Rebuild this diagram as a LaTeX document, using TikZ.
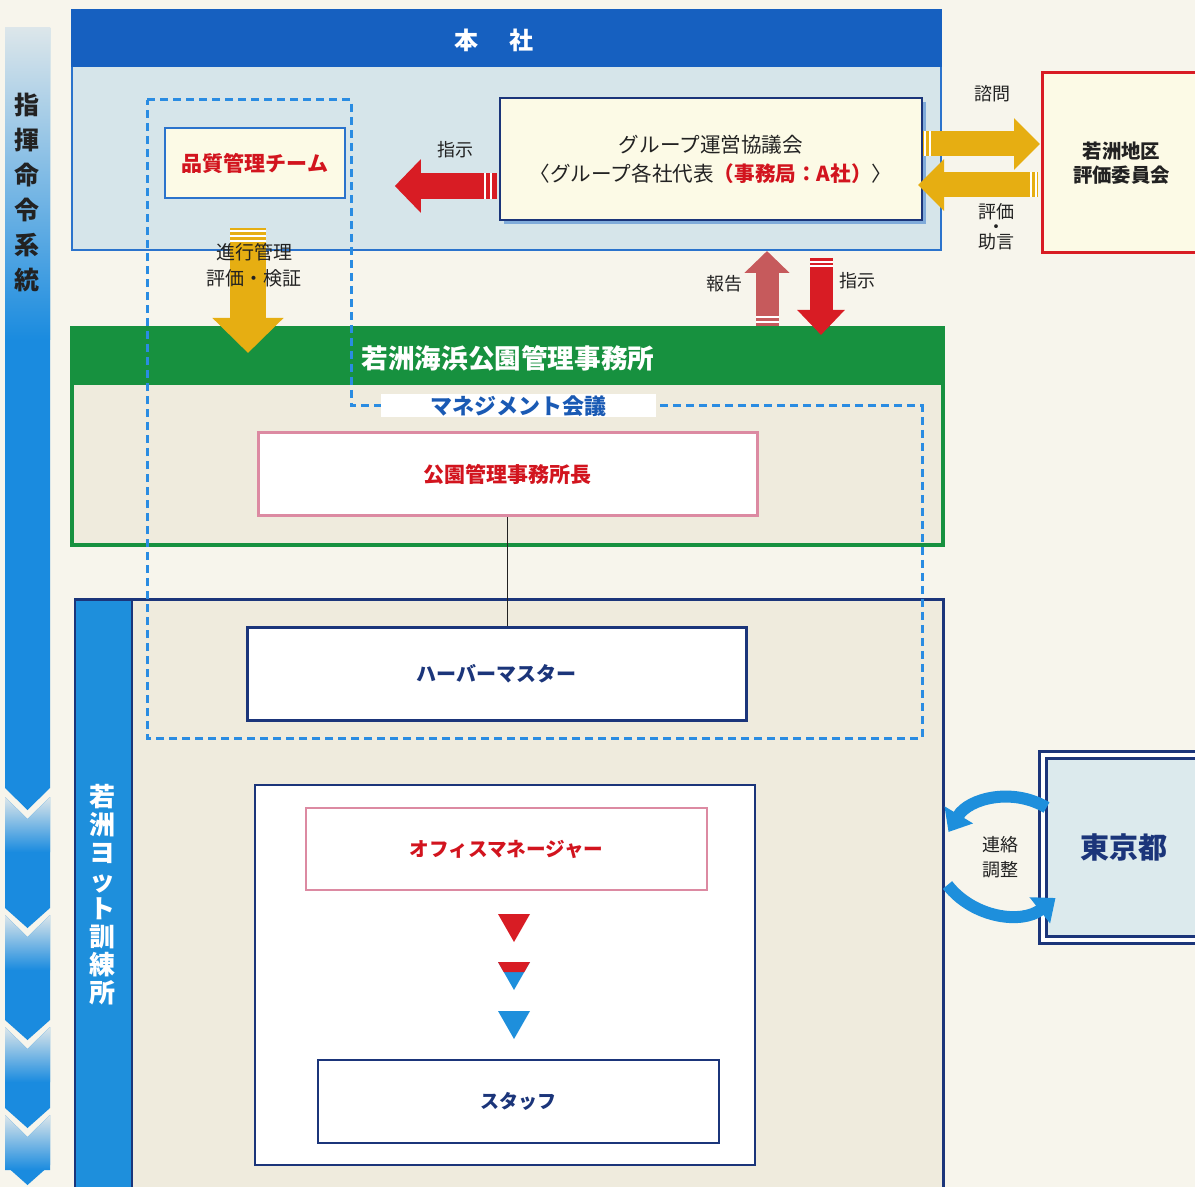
\documentclass[tikz,border=0pt]{standalone}
\usepackage{fontspec}
\setmainfont{Noto Sans CJK JP}
\usetikzlibrary{arrows.meta,calc,shadows}

\definecolor{paper}{HTML}{F7F5EC}
\definecolor{hqblue}{HTML}{1660C0}
\definecolor{hqline}{HTML}{2B73CC}
\definecolor{hqbody}{HTML}{D6E5EA}
\definecolor{cream}{HTML}{FCFAE6}
\definecolor{officegreen}{HTML}{17913F}
\definecolor{beige}{HTML}{EFEBDD}
\definecolor{navy}{HTML}{1B357A}
\definecolor{stripblue}{HTML}{1E8FDC}
\definecolor{cmdblue}{HTML}{1A8BDF}
\definecolor{cmdlight}{HTML}{DCE6EA}
\definecolor{signred}{HTML}{D81C24}
\definecolor{reportred}{HTML}{C65A5C}
\definecolor{gold}{HTML}{E6AE12}
\definecolor{pinkline}{HTML}{DC8AA2}
\definecolor{dashblue}{HTML}{2A8CE2}
\definecolor{tokyofill}{HTML}{DCEAED}
\definecolor{ink}{HTML}{222222}
\definecolor{textred}{HTML}{D2141E}
\definecolor{textblue}{HTML}{1A5AB4}

\newcommand{\sz}[2]{\fontsize{#1}{#2}\selectfont}

\begin{document}
\begin{tikzpicture}[x=0.5pt, y=-0.5pt,
  box/.style={rectangle, inner sep=0pt, align=center},
  lbl/.style={text=ink, align=center, font=\sz{9}{11}},
  redblock/.style={draw=signred, line width=13pt, -{Triangle[width=26pt,length=13pt]}},
  goldblock/.style={draw=gold, line width=12.5pt, -{Triangle[width=25pt,length=13pt]}},
  stripe/.style={white, line width=0.7pt},
  liaison/.style={draw=stripblue, line width=6pt, -{Triangle[width=16pt,length=10pt]}}]

% paper
\useasboundingbox (0,0) rectangle (1195,1187);
\fill[paper] (0,0) rectangle (1195,1187);

% command chain band
\fill[cmdblue] (5,28) -- (50,28) -- (50,788) -- (27.5,810) -- (5,788) -- cycle;
\shade[top color=cmdlight, bottom color=cmdblue] (5,28) rectangle (50,340);
\foreach \t/\b in {797/908, 915/1020, 1027/1108, 1115/1165} {
  \fill[cmdblue] (5,\t) -- (27.5,\t+22) -- (50,\t) -- (50,\b) -- (27.5,\b+20) -- (5,\b) -- cycle;
  \shade[top color=cmdlight, bottom color=cmdblue] (5,\t) -- (27.5,\t+22) -- (50,\t) -- (50,\t+55) -- (5,\t+55) -- cycle;
}
\node[box, text=ink, font=\sz{12.5}{17.5}\bfseries] (chain) at (27,193)
  {指\\揮\\命\\令\\系\\統};

% head office
\node[box, draw=hqline, fill=hqbody, line width=1pt, minimum width=434.5pt, minimum height=120pt] (hq) at (506.5,130) {};
\fill[hqblue] (hq.north west) rectangle ([yshift=-29pt]hq.north east);
\node[text=white, font=\sz{12}{14}\bfseries] (hqtitle) at (494,40) {本\hspace{1.3em}社};

% park office
\node[box, draw=officegreen, fill=beige, line width=2pt, minimum width=435.5pt, minimum height=108.5pt] (office) at (507.5,436.5) {};
\fill[officegreen] (office.north west) rectangle ([yshift=-29.5pt]office.north east);
\node[text=white, font=\sz{13.3}{15}\bfseries] (officetitle) at (508,358) {若洲海浜公園管理事務所};

% yacht school
\node[box, draw=navy, fill=beige, line width=1.5pt, minimum width=434pt, minimum height=295pt] (yacht) at (509,895) {};
\fill[stripblue] (76,601) rectangle (132,1190);
\draw[navy, line width=1pt] (132,601) -- (132,1190);
\node[box, text=white, font=\sz{13}{14}\bfseries] (yachttitle) at (103,895)
  {若\\洲\\ヨ\\ッ\\ト\\訓\\練\\所};
\node[box, draw=navy, fill=white, line width=1pt, minimum width=250pt, minimum height=190pt] (inner) at (505,975) {};

% Tokyo
\node[box, draw=navy, line width=1.5pt, double=white, double distance=2pt, fill=tokyofill,
  minimum width=81pt, minimum height=92.5pt, text=navy, font=\sz{14.5}{16}\bfseries] (tokyo) at (1124,847.5) {東京都};

% evaluation committee
\node[box, draw=signred, fill=cream, line width=1.5pt, minimum width=79pt, minimum height=90pt,
  text=ink, font=\sz{9.7}{12}\bfseries] (com) at (1121.5,163) {若洲地区\\評価委員会};

% management meeting
\draw[dashblue, line width=1.5pt, dash pattern=on 4pt off 2.5pt]
  (147,100) -- (351,100) -- (351,406) -- (922,406) -- (922,738) -- (147,738) -- cycle;
\node[box, fill=white, minimum width=137.5pt, minimum height=11.5pt, text=textblue, font=\sz{11}{12}\bfseries] (mgmt) at (518,406) {マネジメント会議};

% boxes
\node[box, draw=hqline, fill=cream, line width=0.8pt, minimum width=90pt, minimum height=35pt,
  text=textred, font=\sz{10.5}{12}\bfseries] (qc) at (255,163) {品質管理チーム};
\node[box, draw=navy, fill=cream, line width=1pt, minimum width=211pt, minimum height=61pt,
  text=ink, font=\sz{10.3}{14.5},
  drop shadow={shadow xshift=2pt, shadow yshift=-2pt, fill=hqline, opacity=0.5}] (grp) at (711,159)
  {グループ運営協議会\\〈グループ各社代表\textcolor{textred}{\textbf{（事務局：A社）}}〉};
\node[box, draw=pinkline, fill=white, line width=1.5pt, minimum width=249.5pt, minimum height=41.5pt,
  text=textred, font=\sz{10.5}{12}\bfseries] (chief) at (507.5,474.5) {公園管理事務所長};
\node[box, draw=navy, fill=white, line width=1.5pt, minimum width=249.5pt, minimum height=46pt,
  text=navy, font=\sz{10}{12}\bfseries] (harbour) at (496.5,674) {ハーバーマスター};
\node[box, draw=pinkline, fill=white, line width=1pt, minimum width=200.5pt, minimum height=41pt,
  text=textred, font=\sz{9.8}{12}\bfseries] (om) at (506.5,849) {オフィスマネージャー};
\node[box, draw=navy, fill=white, line width=1pt, minimum width=200.5pt, minimum height=41.5pt,
  text=navy, font=\sz{9.5}{12}\bfseries] (staff) at (518.5,1101.5) {スタッフ};

% lines
\draw[ink, line width=0.6pt] (chief.south) -- (chief.south |- harbour.north);
\draw[ink, line width=0.6pt] ($(harbour.south)+(13.5,0)$) -- ($(harbour.south)+(13.5,0)$ |- inner.north);

% triangles
\fill[signred] (498,914) -- (530,914) -- (514,942) -- cycle;
\fill[stripblue] (498,962) -- (530,962) -- (514,990) -- cycle;
\fill[signred] (498,962) -- (530,962) -- (524.3,972) -- (503.7,972) -- cycle;
\fill[stripblue] (498,1011) -- (530,1011) -- (514,1039) -- cycle;

% arrows
\coordinate (dirtail) at ($(grp.west)+(-2,27)$);
\draw[redblock, shorten >=24.5pt] (dirtail) -- (dirtail -| qc.east);
\foreach \x in {485,491} \draw[stripe] (\x,173.5) -- (\x,199.5);
\node[lbl] (dirlbl) at (455,150) {指示};

\coordinate (asktail) at ($(grp.east)+(0,-15)$);
\draw[goldblock, shorten >=0.5pt] (asktail) -- (asktail -| com.west);
\foreach \x in {925,930} \draw[stripe] (\x,131.5) -- (\x,156.5);
\coordinate (advtail) at ($(com.west)+(-3,22)$);
\draw[goldblock, shorten >=-2.5pt] (advtail) -- (advtail -| grp.east);
\foreach \x in {1031,1036} \draw[stripe] (\x,172.5) -- (\x,197.5);
\node[lbl] (asklbl) at (992,94) {諮問};
\node[lbl, font=\sz{9}{13.5}] (advlbl) at (996,227) {評価\\[-6pt]・\\[-6pt]助言};

\coordinate (qctail) at ($(qc.south)+(-7,29)$);
\draw[draw=gold, line width=18pt, -{Triangle[width=34.5pt,length=17.5pt]}, shorten >=-13.5pt] (qctail) -- (qctail |- office.north);
\foreach \y in {231,236,241} \draw[stripe] (230,\y) -- (266,\y);
\node[lbl, font=\sz{9.5}{13}] (qclbl) at (254,265) {進行管理\\評価・検証};

\coordinate (reptail) at ($(office.north)+(259.5,0)$);
\draw[draw=reportred, line width=11.5pt, -{Triangle[width=22pt,length=11pt]}] (reptail) -- (reptail |- hq.south);
\foreach \y in {317,322} \draw[stripe] (755.5,\y) -- (778.5,\y);
\node[lbl] (replbl) at (724,284) {報告};

\coordinate (ordtail) at ($(hq.south)+(314.5,7)$);
\draw[draw=signred, line width=11.5pt, -{Triangle[width=23pt,length=12.5pt]}, shorten >=-4.5pt] (ordtail) -- (ordtail |- office.north);
\foreach \y in {262,266} \draw[stripe] (809.5,\y) -- (832.5,\y);
\node[lbl] (ordlbl) at (857,281) {指示};

% liaison with Tokyo
\draw[liaison] ($(tokyo.west)+(5,-40)$) to[bend right=45] ($(yacht.east)+(4,-63)$);
\draw[liaison] ($(yacht.east)+(3,-10)$) to[bend right=45] ($(tokyo.west)+(14,50.5)$);
\node[lbl, font=\sz{9}{12.5}] (liaisonlbl) at (1000,857.5) {連絡\\調整};

\end{tikzpicture}
\end{document}
